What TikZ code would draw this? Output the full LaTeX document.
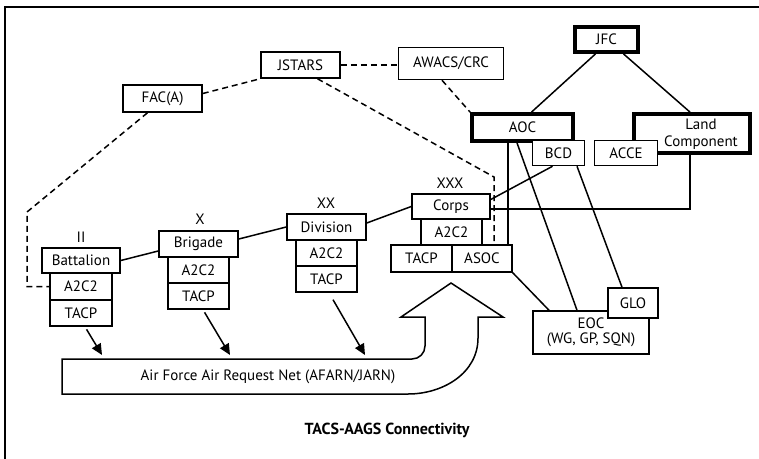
\documentclass[tikz,border=0pt]{standalone}
\usepackage{fontspec}
\setmainfont{PT Sans}
\usepackage{tikz}
\usetikzlibrary{arrows.meta}

\begin{document}
\begin{tikzpicture}[x=1pt, y=-1pt,
        every node/.style={font=\fontsize{15}{16}\selectfont},
        box/.style={draw, rectangle, line width=1.5pt, fill=white, minimum height=26pt, inner sep=2pt},
        bigbox/.style={box, line width=3.8pt},
        link/.style={line width=1.5pt},
        radio/.style={link, dash pattern=on 6pt off 4pt},
        feed/.style={link, -{Triangle[length=11pt, width=10pt]}, shorten <=3pt}]
        \useasboundingbox (0,0) rectangle (759,458);

        % Frame
        \draw[line width=1.8pt] (5,470) -- (5,7) -- (770,7);

        % Air assets
        \node[box, minimum width=79pt] (jstars) at (300.5,65) {JSTARS};
        \node[box, minimum width=79pt, minimum height=27pt] (faca) at (162.5,98.5) {FAC(A)};
        \node[box, minimum width=105pt, minimum height=32pt] (awacs) at (451,63.5) {AWACS/CRC};

        % Joint level
        \node[bigbox, minimum width=63pt, minimum height=25pt] (jfc) at (606.5,39.5) {JFC};
        \node[bigbox, minimum width=101pt, minimum height=27pt] (aoc) at (522.5,127.5) {AOC};
        \node[box, minimum width=52pt, minimum height=25pt] (bcd) at (558.5,153) {BCD};
        \node[bigbox, minimum width=116pt, minimum height=39pt] (land) at (692,133.5) {};
        \node[align=center, inner sep=0pt, font=\fontsize{15}{17}\selectfont] (landtxt) at (701,134) {Land\\Component};
        \node[box, minimum width=63pt, minimum height=25pt] (acce) at (626,153) {ACCE};

        % Battalion
        \node (lblII) at (81,237) {II};
        \node[box, minimum width=78pt, minimum height=25pt] (bat) at (81,260.5) {Battalion};
        \node[box, minimum width=62pt, minimum height=27pt] (bata) at (81,286.5) {A2C2};
        \node[box, minimum width=62pt] (batt) at (81,313) {TACP};

        % Brigade
        \node (lblX) at (200,219) {X};
        \node[box, minimum width=79pt] (brig) at (198.5,244) {Brigade};
        \node[box, minimum width=61pt] (briga) at (198.5,270) {A2C2};
        \node[box, minimum width=61pt] (brigt) at (198.5,296) {TACP};

        % Division
        \node (lblXX) at (326,203) {XX};
        \node[box, minimum width=79pt] (div) at (326.5,227) {Division};
        \node[box, minimum width=61pt] (diva) at (326.5,253) {A2C2};
        \node[box, minimum width=61pt] (divt) at (326.5,279) {TACP};

        % Corps
        \node (lblXXX) at (450,183) {XXX};
        \node[box, minimum width=78pt, minimum height=25pt] (corps) at (451,206.5) {Corps};
        \node[box, minimum width=61pt] (corpsa) at (451.5,232) {A2C2};
        \node[box, minimum width=61pt, minimum height=27pt] (corpst) at (421.5,258.5) {TACP};
        \node[box, minimum width=60pt, minimum height=27pt] (asoc) at (482,258.5) {ASOC};

        % Wing / group / squadron
        \node[box, minimum width=116pt, minimum height=43pt, align=center, font=\fontsize{15}{15}\selectfont] (eoc) at (591,332.5) {EOC\\(WG, GP, SQN)};
        \node[box, minimum width=50pt, minimum height=30pt] (glo) at (633,303) {GLO};

        % Bend points
        \coordinate (facbend) at (27,212);
        \coordinate (jsbend) at (494,177);
        \coordinate (landbend) at (690,209);

        % Dashed links
        \draw[radio] ([yshift=5pt]faca.east) -- (jstars.south west);
        \draw[radio] ([xshift=-15pt]faca.south) -- (facbend) -- (facbend |- bata.west) -- (bata.west);
        \draw[radio] (jstars.east) -- (jstars.east -| awacs.west);
        \draw[radio] ([xshift=-9pt]awacs.south) -- (aoc.north west);
        \draw[radio] ([xshift=17pt]jstars.south) -- (jsbend) -- (jsbend |- asoc.north);

        % Solid links
        \draw[link] ([xshift=-11pt]jfc.south) -- ([xshift=9pt]aoc.north);
        \draw[link] ([xshift=17pt]jfc.south) -- ([xshift=-2pt]land.north);
        \draw[link] (bat.east) -- ([yshift=-7pt]brig.west);
        \draw[link] ([yshift=5pt]brig.east) -- (div.west);
        \draw[link] ([yshift=4pt]div.east) -- (corps.west);
        \draw[link] ([yshift=7pt]corps.east) -- ([xshift=-6pt]bcd.south);
        \draw[link] ([yshift=-2.5pt]corps.east) -- (landbend) -- (landbend |- land.south);
        \draw[link] ([xshift=-14.5pt]aoc.south) -- ([xshift=-14.5pt]aoc.south |- asoc.north);
        \draw[link] ([xshift=-5.5pt]aoc.south) -- ([xshift=-14pt]eoc.north);
        \draw[link] ([xshift=18.5pt]bcd.south) -- ([xshift=-11pt]glo.north);
        \draw[link] (asoc.south east) -- ([xshift=-42pt]eoc.north);

        % Request net and big arrow
        \draw[link, line join=miter] (62,359) -- (412,359) to[out=0, in=-90] (425,346) -- (425,317)
            -- (401,317) -- (451,283) -- (503,317) -- (478,317) -- (478,338)
            to[out=-90, in=0] (408,394) -- (62,394) -- cycle;
        \node (afarn) at (268,377) {Air Force Air Request Net (AFARN/JARN)};

        \coordinate (netbat) at (102,355);
        \coordinate (netbrig) at (230,355);
        \coordinate (netdiv) at (365,355);
        \draw[feed] ([xshift=4pt]batt.south) -- (netbat);
        \draw[feed] ([xshift=4.5pt]brigt.south) -- (netbrig);
        \draw[feed, shorten <=8pt] ([xshift=2.5pt]divt.south) -- (netdiv);

        % Title
        \node[font=\fontsize{16}{17}\selectfont\bfseries] (title) at (387,430) {TACS-AAGS Connectivity};
\end{tikzpicture}
\end{document}
